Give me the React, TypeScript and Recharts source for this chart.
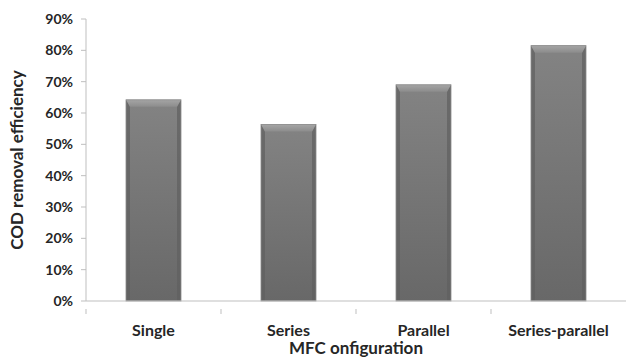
import { BarChart, Bar, XAxis, YAxis } from 'recharts';

const configs = ['Single', 'Series', 'Parallel', 'Series-parallel'];
const codRemoval = [64.2, 56.3, 69.0, 81.5];
const yTicks = [0, 10, 20, 30, 40, 50, 60, 70, 80, 90];

const data = configs.map((name, i) => ({ name, value: codRemoval[i] }));

const FONT = 'Lato, "Open Sans", sans-serif';

function BevelBar(props: any) {
    const { x, y, width, height } = props;
    if (!height || height <= 0) return null;
    const b = 4;
    const t = 7;
    return (
        <g>
            <rect x={x} y={y} width={width} height={height} fill="url(#barBody)" />
            <polygon
                points={`${x},${y} ${x + b},${y + t} ${x + b},${y + height} ${x},${y + height}`}
                fill="#5f5f5f"
                opacity={0.7}
            />
            <polygon
                points={`${x + width},${y} ${x + width - b},${y + t} ${x + width - b},${y + height} ${x + width},${y + height}`}
                fill="#5f5f5f"
                opacity={0.7}
            />
            <polygon
                points={`${x},${y} ${x + width},${y} ${x + width - b},${y + t} ${x + b},${y + t}`}
                fill="url(#barTop)"
            />
            <rect x={x} y={y} width={width} height={height} fill="none" stroke="#8a8a8a" strokeWidth={0.8} />
        </g>
    );
}

function XTick(props: any) {
    const { x, y, payload } = props;
    const off = payload.offset || 0;
    return (
        <g>
            <line x1={x - off} y1={y} x2={x - off} y2={y + 5} stroke="#bfbfbf" />
            <text
                x={x}
                y={y + 27}
                textAnchor="middle"
                fill="#262626"
                fontFamily={FONT}
                fontWeight="bold"
                fontSize={16}
            >
                {payload.value}
            </text>
        </g>
    );
}

function App() {
    return (
        <div style={{ position: 'absolute', left: 0, top: 0, background: '#fff' }}>
            <BarChart
                width={626}
                height={362}
                data={data}
                margin={{ top: 19, right: 0, bottom: 0, left: 0 }}
                barSize={55}
            >
                <defs>
                    <linearGradient id="barBody" x1="0" y1="0" x2="0" y2="1">
                        <stop offset="0%" stopColor="#838383" />
                        <stop offset="100%" stopColor="#686868" />
                    </linearGradient>
                    <linearGradient id="barTop" x1="0" y1="0" x2="0" y2="1">
                        <stop offset="0%" stopColor="#a5a5a5" />
                        <stop offset="100%" stopColor="#8c8c8c" />
                    </linearGradient>
                </defs>
                <XAxis
                    dataKey="name"
                    height={61}
                    stroke="#bfbfbf"
                    tickLine={false}
                    tick={<XTick />}
                    interval={0}
                    label={{
                        value: 'MFC onfiguration',
                        position: 'insideBottom',
                        offset: 8,
                        fill: '#262626',
                        fontFamily: FONT,
                        fontSize: 17,
                        fontWeight: 'bold',
                    }}
                />
                <YAxis
                    width={86}
                    domain={[0, 90]}
                    ticks={yTicks}
                    interval={0}
                    stroke="#bfbfbf"
                    tickSize={5}
                    tickMargin={8}
                    tickFormatter={(v: number) => `${v}%`}
                    tick={{ fill: '#262626', fontFamily: FONT, fontWeight: 'bold', fontSize: 14 }}
                    label={{
                        value: 'COD removal efficiency',
                        angle: -90,
                        position: 'insideLeft',
                        offset: 17,
                        fill: '#262626',
                        fontFamily: FONT,
                        fontSize: 17,
                        fontWeight: 'bold',
                        style: { textAnchor: 'middle' },
                    }}
                />
                <Bar dataKey="value" shape={<BevelBar />} isAnimationActive={false} />
            </BarChart>
        </div>
    );
}

export default App;
